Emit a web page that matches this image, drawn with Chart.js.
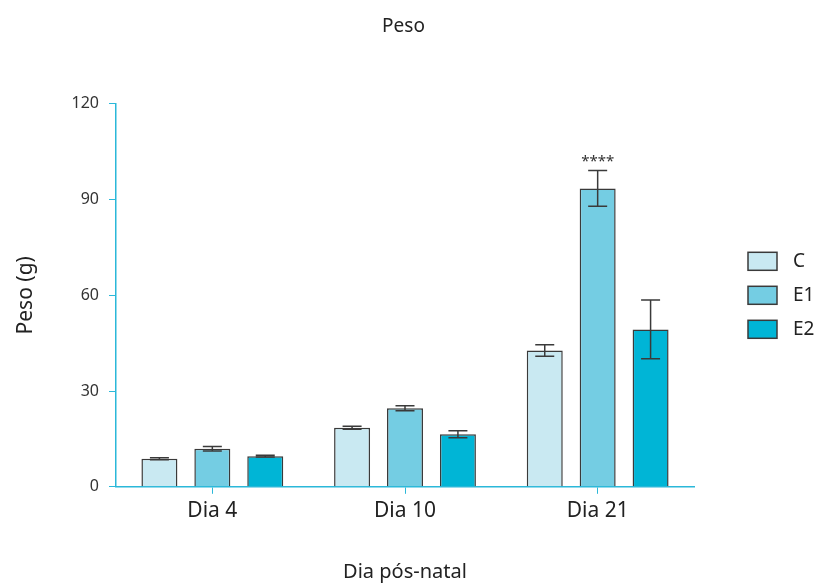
<!DOCTYPE html>
<html>
<head>
<meta charset="utf-8">
<script src="https://cdn.jsdelivr.net/npm/chart.js@4.4.0/dist/chart.umd.min.js"></script>
<style>
    html, body { margin: 0; padding: 0; background: #fff; }
    #wrap { width: 817px; height: 584px; position: relative; }
</style>
</head>
<body>
<div id="wrap"><canvas id="chart"></canvas></div>
<script>
// data
const days = ['Dia 4', 'Dia 10', 'Dia 21'];
const groupNames = ['C', 'E1', 'E2'];
const groupColors = ['#c9e9f2', '#74cde3', '#00b5d6'];
const meanC = [8.8, 18.5, 42.7];
const meanE1 = [11.9, 24.6, 93.5];
const meanE2 = [9.6, 16.5, 49.3];
const errC = [0.3, 0.5, 1.8];
const errE1 = [0.7, 0.8, 5.6];
const errE2 = [0.3, 1.1, 9.2];
const sigE1 = ['', '', '****'];
const yTicks = [0, 30, 60, 90, 120];

const axisColor = '#2bb8d9';
const edgeColor = '#3a3a3a';
const fontFamily = '"Noto Sans", "Open Sans", sans-serif';

// error bars + significance marks on top of the bars
const errorBarPlugin = {
    id: 'errorBars',
    afterDatasetsDraw(chart) {
        const { ctx, scales: { y } } = chart;
        ctx.save();
        chart.data.datasets.forEach((ds, i) => {
            const meta = chart.getDatasetMeta(i);
            meta.data.forEach((bar, j) => {
                const v = ds.data[j];
                const e = ds.errors[j];
                const top = y.getPixelForValue(v + e);
                const bottom = y.getPixelForValue(v - e);
                const half = 9.5;
                ctx.strokeStyle = edgeColor;
                ctx.lineWidth = 1.5;
                ctx.beginPath();
                ctx.moveTo(bar.x, top);
                ctx.lineTo(bar.x, bottom);
                ctx.moveTo(bar.x - half, top);
                ctx.lineTo(bar.x + half, top);
                ctx.moveTo(bar.x - half, bottom);
                ctx.lineTo(bar.x + half, bottom);
                ctx.stroke();
                if (ds.sig && ds.sig[j]) {
                    ctx.fillStyle = '#333';
                    ctx.font = '15px ' + fontFamily;
                    ctx.textAlign = 'center';
                    ctx.textBaseline = 'bottom';
                    ctx.fillText(ds.sig[j], bar.x, top - 1);
                }
            });
        });
        ctx.restore();
    }
};

// legend on the right, drawn in the space kept free by the 'side' scale
const sideLegendPlugin = {
    id: 'sideLegend',
    afterDraw(chart) {
        const { ctx, chartArea } = chart;
        const midY = (chartArea.top + chartArea.bottom) / 2;
        const rowGap = 34;
        ctx.save();
        chart.data.datasets.forEach((ds, i) => {
            const cy = midY + (i - 1) * rowGap;
            ctx.fillStyle = ds.backgroundColor;
            ctx.fillRect(748, cy - 9, 29, 18);
            ctx.strokeStyle = edgeColor;
            ctx.lineWidth = 1.5;
            ctx.strokeRect(748, cy - 9, 29, 18);
            ctx.fillStyle = '#222';
            ctx.font = '19px ' + fontFamily;
            ctx.textAlign = 'left';
            ctx.textBaseline = 'middle';
            ctx.fillText(ds.label, 793, cy);
        });
        ctx.restore();
    }
};

new Chart(document.getElementById('chart'), {
    type: 'bar',
    data: {
        labels: days,
        datasets: [
            {
                label: groupNames[0],
                data: meanC,
                errors: errC,
                backgroundColor: groupColors[0],
                borderColor: edgeColor,
                borderWidth: 1.5
            },
            {
                label: groupNames[1],
                data: meanE1,
                errors: errE1,
                sig: sigE1,
                backgroundColor: groupColors[1],
                borderColor: edgeColor,
                borderWidth: 1.5
            },
            {
                label: groupNames[2],
                data: meanE2,
                errors: errE2,
                backgroundColor: groupColors[2],
                borderColor: edgeColor,
                borderWidth: 1.5
            }
        ]
    },
    options: {
        responsive: true,
        maintainAspectRatio: false,
        animation: false,
        categoryPercentage: 0.824,
        barPercentage: 0.68,
        layout: {
            padding: { left: 0, right: 10, top: 0, bottom: 0 }
        },
        plugins: {
            title: {
                display: true,
                text: 'Peso',
                color: '#222',
                font: { family: fontFamily, size: 19, weight: 'normal' },
                padding: { top: 15, bottom: 66 }
            },
            legend: { display: false },
            tooltip: { enabled: false }
        },
        scales: {
            x: {
                grid: {
                    drawOnChartArea: false,
                    drawTicks: true,
                    tickLength: 7,
                    color: axisColor,
                    offset: false
                },
                border: { color: axisColor, width: 1.5 },
                ticks: {
                    color: '#222',
                    padding: 5,
                    font: { family: fontFamily, size: 21 }
                },
                title: {
                    display: true,
                    text: 'Dia pós-natal',
                    color: '#222',
                    font: { family: fontFamily, size: 20 },
                    padding: { top: 31, bottom: 0 }
                }
            },
            y: {
                min: 0,
                max: 120,
                afterBuildTicks: axis => {
                    axis.ticks = yTicks.map(v => ({ value: v }));
                },
                afterFit: axis => {
                    axis.width = 116;
                },
                grid: {
                    drawOnChartArea: false,
                    drawTicks: true,
                    tickLength: 7,
                    color: axisColor
                },
                border: { color: axisColor, width: 1.5 },
                ticks: {
                    color: '#333',
                    padding: 10,
                    font: { family: fontFamily, size: 16 }
                },
                title: {
                    display: true,
                    text: 'Peso (g)',
                    color: '#222',
                    font: { family: fontFamily, size: 21 },
                    padding: { top: 13, bottom: 0 }
                }
            },
            // empty right-hand scale, only reserves room for the legend
            side: {
                type: 'linear',
                position: 'right',
                grid: { display: false },
                border: { display: false },
                ticks: { display: false },
                afterFit: axis => {
                    axis.width = 113;
                }
            }
        }
    },
    plugins: [errorBarPlugin, sideLegendPlugin]
});
</script>
</body>
</html>
